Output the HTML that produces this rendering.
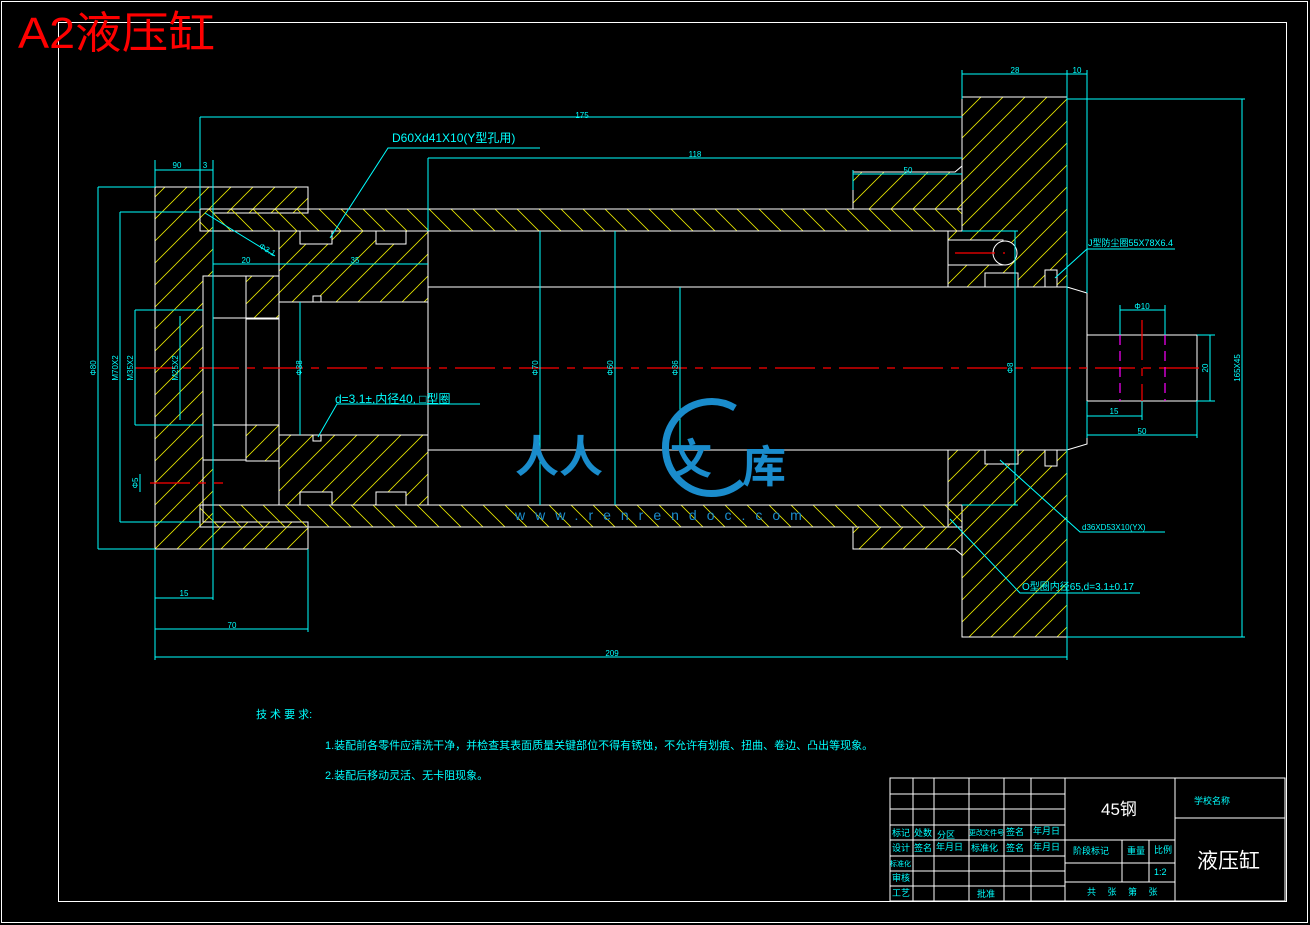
<!DOCTYPE html>
<html><head><meta charset="utf-8"><style>
html,body{margin:0;padding:0;background:#000;}
svg{display:block;}
text{font-family:"Liberation Sans","Noto Sans CJK SC",sans-serif;}
</style></head><body>
<svg width="1310" height="925" viewBox="0 0 1310 925" xmlns="http://www.w3.org/2000/svg">
<defs>
<pattern id="hf" patternUnits="userSpaceOnUse" width="22" height="22"><path d="M0 22L22 0M-11 11L11 -11M11 33L33 11" stroke="#e8e800" stroke-width="0.8"/></pattern>
<pattern id="hb" patternUnits="userSpaceOnUse" width="22" height="22"><path d="M0 0L22 22M-11 11L11 33M11 -11L33 11" stroke="#e8e800" stroke-width="0.8"/></pattern>
</defs>
<rect width="1310" height="925" fill="#000"/>
<rect x="1.5" y="1.5" width="1306" height="921" fill="none" stroke="#fff" stroke-width="1"/>
<rect x="58.5" y="22.5" width="1228" height="879" fill="none" stroke="#fff" stroke-width="1"/>
<text x="18" y="48" fill="#f00" font-size="44" textLength="197" lengthAdjust="spacingAndGlyphs" font-family="Liberation Sans,Noto Serif CJK SC,sans-serif">A2液压缸</text>

<g stroke="#fff" stroke-width="1">
<path d="M155 187H308V213H213V522H308V549H155Z" fill="url(#hf)"/>
<rect x="200" y="209" width="762" height="22" fill="url(#hb)"/>
<rect x="200" y="505" width="762" height="22" fill="url(#hb)"/>
<path d="M279 231H428V287H428V302H279Z" fill="url(#hf)"/>
<path d="M279 435H428V505H279Z" fill="url(#hf)"/>
<rect x="300" y="231" width="32" height="13" fill="#000"/>
<rect x="376" y="231" width="30" height="13" fill="#000"/>
<rect x="300" y="492" width="32" height="13" fill="#000"/>
<rect x="376" y="492" width="30" height="13" fill="#000"/>
<rect x="313" y="296" width="8" height="6" fill="#000"/>
<rect x="313" y="435" width="8" height="6" fill="#000"/>
<rect x="203" y="276" width="43" height="184" fill="#000"/>
<rect x="246" y="276" width="33" height="43" fill="url(#hf)"/>
<rect x="246" y="425" width="33" height="36" fill="url(#hf)"/>
<rect x="213" y="318" width="66" height="107" fill="none"/>
<rect x="203" y="460" width="10" height="62" fill="none"/>
<path d="M853 172H955L962 166V209H853Z" fill="url(#hf)"/>
<path d="M853 527H962V555L955 549H853Z" fill="url(#hf)"/>
<path d="M962 97H1067V287H948V231H962Z" fill="url(#hf)"/>
<path d="M948 450H1067V637H962V527H948Z" fill="url(#hf)"/>
<rect x="948" y="240" width="55" height="25" fill="#000"/>
<circle cx="1005" cy="253" r="12" fill="#000"/>
<rect x="985" y="273" width="33" height="14" fill="#000"/>
<rect x="1045" y="270" width="12" height="17" fill="#000"/>
<rect x="985" y="450" width="33" height="14" fill="#000"/>
<rect x="1045" y="450" width="12" height="16" fill="#000"/>
<path d="M428 287H1067L1087 293V444L1067 450H428Z" fill="#000"/>
<rect x="1087" y="335" width="110" height="66" fill="none"/>
<line x1="428" y1="231" x2="428" y2="505"/>
</g>
<g stroke="#f00" stroke-width="1.2" stroke-dasharray="40,8,8,8">
<line x1="135" y1="368" x2="1200" y2="368"/>
<line x1="150" y1="483" x2="223" y2="483"/>
<line x1="955" y1="253" x2="1005" y2="253"/>
<line x1="1142" y1="320" x2="1142" y2="410"/>
</g>
<g stroke="#f0f" stroke-width="1.2" stroke-dasharray="10,6"><line x1="1120" y1="335" x2="1120" y2="401"/><line x1="1165" y1="335" x2="1165" y2="401"/></g>

<g stroke="#0ff" stroke-width="1" fill="none">
<line x1="98" y1="187" x2="98" y2="549"/><line x1="98" y1="187" x2="155" y2="187"/><line x1="98" y1="549" x2="155" y2="549"/>
<line x1="120" y1="212" x2="120" y2="522"/><line x1="120" y1="212" x2="200" y2="212"/><line x1="120" y1="522" x2="200" y2="522"/>
<line x1="135" y1="310" x2="135" y2="425"/><line x1="135" y1="310" x2="203" y2="310"/><line x1="135" y1="425" x2="203" y2="425"/>
<line x1="180" y1="316" x2="180" y2="420"/>
<line x1="300" y1="302" x2="300" y2="435"/>
<line x1="540" y1="231" x2="540" y2="505"/>
<line x1="615" y1="231" x2="615" y2="505"/>
<line x1="680" y1="287" x2="680" y2="450"/>
<line x1="1015" y1="231" x2="1015" y2="505"/><line x1="962" y1="231" x2="1018" y2="231"/><line x1="962" y1="505" x2="1018" y2="505"/>
<line x1="1242" y1="99" x2="1242" y2="637"/><line x1="1067" y1="99" x2="1245" y2="99"/><line x1="1067" y1="637" x2="1245" y2="637"/>
<line x1="1210" y1="335" x2="1210" y2="401"/><line x1="1197" y1="335" x2="1215" y2="335"/><line x1="1197" y1="401" x2="1215" y2="401"/>
<line x1="200" y1="117" x2="962" y2="117"/><line x1="200" y1="117" x2="200" y2="209"/>
<line x1="428" y1="158" x2="962" y2="158"/><line x1="428" y1="158" x2="428" y2="231"/><line x1="962" y1="70" x2="962" y2="99"/>
<line x1="155" y1="170" x2="213" y2="170"/><line x1="155" y1="160" x2="155" y2="187"/><line x1="213" y1="160" x2="213" y2="600"/><line x1="200" y1="160" x2="200" y2="209"/>
<line x1="962" y1="74" x2="1087" y2="74"/><line x1="1067" y1="70" x2="1067" y2="660"/><line x1="1087" y1="70" x2="1087" y2="293"/>
<line x1="853" y1="174" x2="962" y2="174"/><line x1="853" y1="170" x2="853" y2="190"/>
<line x1="213" y1="264" x2="428" y2="264"/>
<line x1="155" y1="598" x2="213" y2="598"/><line x1="155" y1="549" x2="155" y2="660"/>
<line x1="155" y1="629" x2="308" y2="629"/><line x1="308" y1="549" x2="308" y2="632"/>
<line x1="155" y1="657" x2="1067" y2="657"/>
<line x1="1087" y1="416" x2="1142" y2="416"/><line x1="1142" y1="401" x2="1142" y2="420"/>
<line x1="1087" y1="435" x2="1197" y2="435"/><line x1="1197" y1="401" x2="1197" y2="438"/><line x1="1087" y1="401" x2="1087" y2="438"/>
<line x1="1120" y1="310" x2="1165" y2="310"/><line x1="1120" y1="305" x2="1120" y2="335"/><line x1="1165" y1="305" x2="1165" y2="335"/>
<polyline points="330,238 388,148 540,148"/>
<polyline points="205,213 275,256"/>
<polyline points="318,437 337,404 480,404"/>
<polyline points="1055,278 1087,249 1175,249"/>
<polyline points="1000,460 1080,532 1165,532"/>
<polyline points="950,519 1020,593 1140,593"/>
<line x1="140" y1="474" x2="140" y2="492"/>
</g>
<g fill="#0ff" font-size="8" text-anchor="middle">
<text x="582" y="118">175</text><text x="695" y="157">118</text><text x="177" y="168">90</text><text x="205" y="168">3</text>
<text x="1015" y="73">28</text><text x="1077" y="73">10</text><text x="908" y="173">50</text>
<text x="246" y="263">20</text><text x="355" y="263">35</text><text x="184" y="596">15</text><text x="232" y="628">70</text>
<text x="612" y="656">209</text><text x="1114" y="414">15</text><text x="1142" y="434">50</text><text x="1142" y="309">Φ10</text>
<text x="266" y="252" transform="rotate(30 266 252)">Φ3.1</text>
<text transform="translate(96 368) rotate(-90)">Φ80</text>
<text transform="translate(118 368) rotate(-90)">M70X2</text>
<text transform="translate(133 368) rotate(-90)">M35X2</text>
<text transform="translate(178 368) rotate(-90)">M25X2</text>
<text transform="translate(302 368) rotate(-90)">Φ38</text>
<text transform="translate(538 368) rotate(-90)">Φ70</text>
<text transform="translate(613 368) rotate(-90)">Φ60</text>
<text transform="translate(678 368) rotate(-90)">Φ36</text>
<text transform="translate(1013 368) rotate(-90)">Φ8</text>
<text transform="translate(1240 368) rotate(-90)">165X45</text>
<text transform="translate(1208 368) rotate(-90)">20</text>
<text transform="translate(138 483) rotate(-90)">Φ5</text>
</g>
<g fill="#0ff" font-size="12">
<text x="392" y="142">D60Xd41X10(Y型孔用)</text>
<text x="335" y="403">d=3.1±,内径40, □型圈</text>
<text x="1088" y="246" font-size="9">J型防尘圈55X78X6.4</text>
<text x="1082" y="530" font-size="8">d36XD53X10(YX)</text>
<text x="1022" y="590" font-size="10">O型圈内径65,d=3.1±0.17</text>
<text x="256" y="718" font-size="11">技 术 要 求:</text>
<text x="325" y="749" font-size="11">1.装配前各零件应清洗干净，并检查其表面质量关键部位不得有锈蚀，不允许有划痕、扭曲、卷边、凸出等现象。</text>
<text x="325" y="779" font-size="11">2.装配后移动灵活、无卡阻现象。</text>
</g>
<g fill="#1a8ccc">
<text x="515" y="472" font-size="44" font-weight="bold" font-family="Noto Sans CJK SC,sans-serif">人人</text>
<path d="M735 408 A46 46 0 1 0 742 482" fill="none" stroke="#1a8ccc" stroke-width="7"/>
<text x="670" y="474" font-size="42" font-weight="bold" font-family="Noto Sans CJK SC,sans-serif">文</text>
<text x="742" y="482" font-size="44" font-weight="bold" font-family="Noto Sans CJK SC,sans-serif">库</text>
<text x="515" y="520" font-size="14" letter-spacing="10">www.renrendoc.com</text>
</g>
<g stroke="#fff" stroke-width="1" fill="none">
<rect x="890" y="778" width="395" height="123"/>
<line x1="890" y1="794" x2="1065" y2="794"/><line x1="890" y1="809" x2="1065" y2="809"/><line x1="890" y1="825" x2="1065" y2="825"/>
<line x1="890" y1="840" x2="1175" y2="840"/><line x1="890" y1="856" x2="1065" y2="856"/><line x1="890" y1="871" x2="1065" y2="871"/><line x1="890" y1="886" x2="1065" y2="886"/>
<line x1="913" y1="778" x2="913" y2="901"/><line x1="934" y1="778" x2="934" y2="901"/><line x1="969" y1="778" x2="969" y2="901"/><line x1="1004" y1="778" x2="1004" y2="901"/><line x1="1031" y1="778" x2="1031" y2="901"/>
<line x1="1065" y1="778" x2="1065" y2="901"/><line x1="1175" y1="778" x2="1175" y2="901"/>
<line x1="1065" y1="863" x2="1175" y2="863"/><line x1="1065" y1="882" x2="1175" y2="882"/>
<line x1="1122" y1="840" x2="1122" y2="882"/><line x1="1149" y1="840" x2="1149" y2="882"/>
<line x1="1175" y1="818" x2="1285" y2="818"/>
</g>
<g fill="#0ff" font-size="9">
<text x="892" y="836">标记</text><text x="914" y="836">处数</text><text x="937" y="838">分区</text><text x="969" y="835" font-size="7">更改文件号</text><text x="1006" y="835">签名</text><text x="1033" y="834">年月日</text>
<text x="892" y="851">设计</text><text x="914" y="851">签名</text><text x="936" y="850">年月日</text><text x="971" y="851">标准化</text><text x="1006" y="851">签名</text><text x="1033" y="850">年月日</text>
<text x="890" y="866" font-size="7">标准化</text><text x="892" y="881">审核</text><text x="892" y="896">工艺</text><text x="977" y="897">批准</text>
<text x="1073" y="854">阶段标记</text><text x="1127" y="854">重量</text><text x="1154" y="853">比例</text><text x="1154" y="875">1:2</text>
<text x="1087" y="895">共　 张　 第　 张</text>
<text x="1194" y="804">学校名称</text>
</g>
<text x="1101" y="815" fill="#fff" font-size="17">45钢</text>
<text x="1197" y="868" fill="#fff" font-size="21" font-family="Noto Sans CJK SC,sans-serif">液压缸</text>
</svg>
</body></html>
